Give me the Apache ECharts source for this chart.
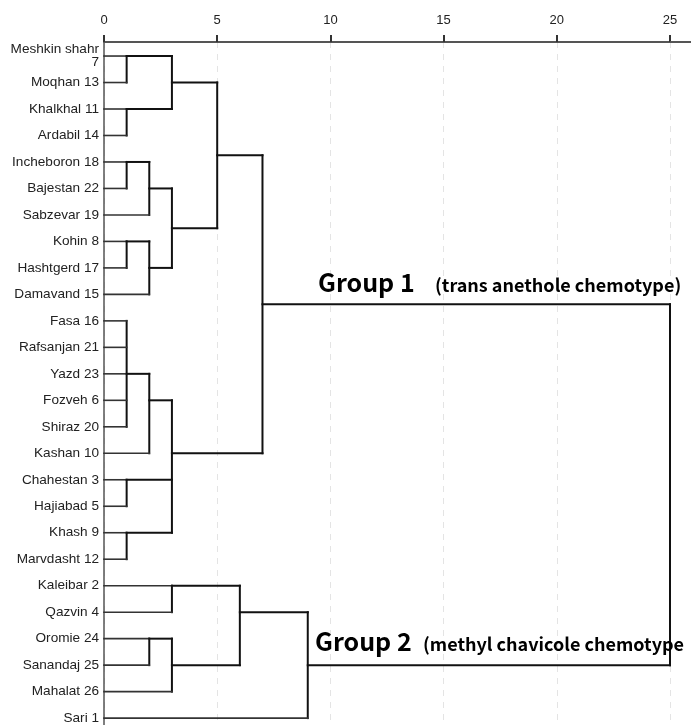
<!DOCTYPE html>
<html><head><meta charset="utf-8">
<script src="https://cdn.jsdelivr.net/npm/echarts@6/dist/echarts.min.js"></script>
<style>html,body{margin:0;padding:0;background:#fff}#c{width:691px;height:725px}</style>
</head><body><div id="c"></div>
<script>
// Leaves (top to bottom)
const leafLabels = [
  'Meshkin shahr\n7', 'Moqhan 13', 'Khalkhal 11', 'Ardabil 14', 'Incheboron 18',
  'Bajestan 22', 'Sabzevar 19', 'Kohin 8', 'Hashtgerd 17', 'Damavand 15',
  'Fasa 16', 'Rafsanjan 21', 'Yazd 23', 'Fozveh 6', 'Shiraz 20',
  'Kashan 10', 'Chahestan 3', 'Hajiabad 5', 'Khash 9', 'Marvdasht 12',
  'Kaleibar 2', 'Qazvin 4', 'Oromie 24', 'Sanandaj 25', 'Mahalat 26', 'Sari 1'
];
// Rescaled distance axis ticks
const xTicks = [0, 5, 10, 15, 20, 25];
// Merges: children (L = leaf index, M = merge index), rescaled distance, row position of node
const mergeChildren = [
  ['L0', 'L1'],            // M0
  ['L2', 'L3'],            // M1
  ['M0', 'M1'],            // M2
  ['L4', 'L5'],            // M3
  ['M3', 'L6'],            // M4
  ['L7', 'L8'],            // M5
  ['M5', 'L9'],            // M6
  ['M4', 'M6'],            // M7
  ['M2', 'M7'],            // M8
  ['L10', 'L11', 'L12', 'L13', 'L14'], // M9
  ['M9', 'L15'],           // M10
  ['L16', 'L17'],          // M11
  ['L18', 'L19'],          // M12
  ['M10', 'M11', 'M12'],   // M13
  ['M8', 'M13'],           // M14 (Group 1)
  ['L20', 'L21'],          // M15
  ['L22', 'L23'],          // M16
  ['M16', 'L24'],          // M17
  ['M15', 'M17'],          // M18
  ['M18', 'L25'],          // M19 (Group 2)
  ['M14', 'M19']           // M20 (root)
];
const mergeHeights = [1, 1, 3, 1, 2, 1, 2, 3, 5, 1, 2, 1, 1, 3, 7, 3, 2, 3, 6, 9, 25];
const mergeRows    = [0, 2, 1, 4, 5, 7, 8, 6.5, 3.75, 12, 13, 16, 18, 15, 9.375, 20, 22, 23, 21, 23, 16.2];

const groupTitles = ['Group 1', 'Group 2'];
const groupNotes = ['(trans anethole chemotype)', '(methyl chavicole chemotype'];

function nodeOf(ref) {
  const k = parseInt(ref.slice(1), 10);
  if (ref[0] === 'L') return { h: 0, row: k, leaf: true };
  return { h: mergeHeights[k], row: mergeRows[k], leaf: false };
}

const chart = echarts.init(document.getElementById('c'), null, { renderer: 'canvas' });
const leafIdx = leafLabels.map((_, i) => i);
const titleFont = 'bold 25px "Noto Sans CJK KR", "Noto Sans", sans-serif';
const noteFont = 'bold 18px "Noto Sans CJK KR", "Noto Sans", sans-serif';

const option = {
  backgroundColor: '#ffffff',
  animation: false,
  grid: { left: 104, top: 42, right: 21, bottom: 0, containLabel: false, outerBoundsMode: 'none' },
  xAxis: [{
    type: 'value', position: 'top', min: xTicks[0], max: xTicks[xTicks.length - 1], interval: 5,
    axisLine: { show: true, onZero: false, lineStyle: { color: '#555', width: 2 } },
    axisTick: { show: true, inside: false, length: 7, lineStyle: { color: '#333', width: 2 } },
    axisLabel: { show: true, margin: 15, color: '#222', fontSize: 13, fontFamily: 'Liberation Sans, Arial, sans-serif' },
    splitLine: { show: true, lineStyle: { color: '#e4e4e4', width: 1, type: [6, 6] } }
  }],
  yAxis: [{
    type: 'value', inverse: true, min: -0.53, max: 25.26,
    axisLine: { show: true, onZero: false, lineStyle: { color: '#555', width: 1.5 } },
    axisTick: { show: false },
    splitLine: { show: false },
    axisLabel: {
      customValues: leafIdx,
      formatter: v => leafLabels[Math.round(v)] || '',
      margin: 5, color: '#222', fontSize: 13.6, lineHeight: 13,
      fontFamily: 'Liberation Sans, Arial, sans-serif', align: 'right', hideOverlap: false
    }
  }],
  series: [{
    type: 'custom',
    xAxisIndex: 0, yAxisIndex: 0,
    data: mergeHeights.map((h, i) => [h, mergeRows[i]]),
    encode: { x: 0, y: 1 },
    renderItem: function (params, api) {
      const i = params.dataIndex;
      const h = mergeHeights[i];
      const kids = mergeChildren[i].map(nodeOf);
      const rows = kids.map(k => k.row);
      const top = api.coord([h, Math.min.apply(null, rows)]);
      const bot = api.coord([h, Math.max.apply(null, rows)]);
      const children = [{
        type: 'line',
        shape: { x1: top[0], y1: top[1], x2: bot[0], y2: bot[1] },
        style: { stroke: '#111', lineWidth: 2, lineCap: 'square' }
      }];
      kids.forEach(k => {
        const a = api.coord([k.h, k.row]);
        const b = api.coord([h, k.row]);
        children.push({
          type: 'line',
          shape: { x1: a[0], y1: a[1], x2: b[0], y2: b[1] },
          style: { stroke: k.leaf ? '#333' : '#111', lineWidth: k.leaf ? 1.6 : 2, lineCap: 'square' }
        });
      });
      return { type: 'group', children: children };
    }
  }],
  graphic: [
    { type: 'line', shape: { x1: 670, y1: 42, x2: 691, y2: 42 }, style: { stroke: '#555', lineWidth: 2 }, z: 10 },
    { type: 'text', left: 318, top: 270, z: 20,
      style: { text: groupTitles[0], font: titleFont, fill: '#000' } },
    { type: 'text', left: 435, top: 276, z: 20,
      style: { text: groupNotes[0], font: noteFont, fill: '#000' } },
    { type: 'text', left: 315, top: 629, z: 20,
      style: { text: groupTitles[1], font: titleFont, fill: '#000' } },
    { type: 'text', left: 423, top: 635, z: 20,
      style: { text: groupNotes[1], font: noteFont, fill: '#000' } }
  ]
};
chart.setOption(option);
</script>
</body></html>
